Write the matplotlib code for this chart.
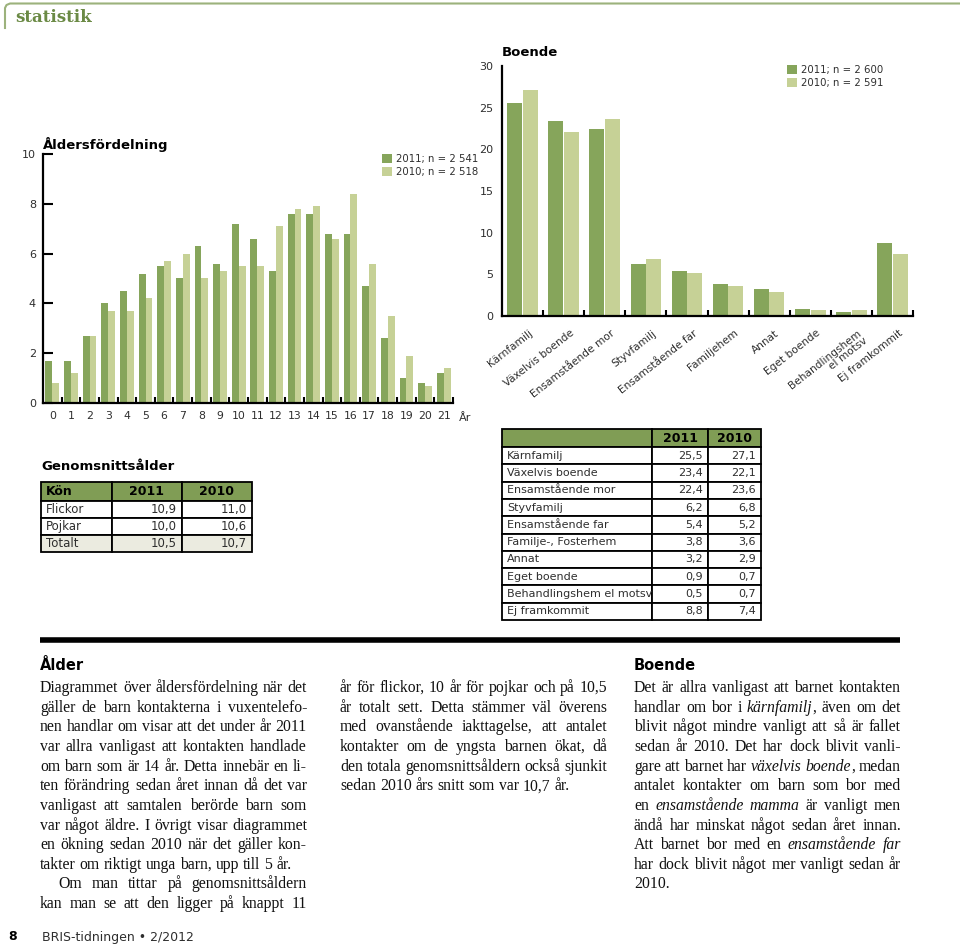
import numpy as np
import matplotlib
matplotlib.use("Agg")
import matplotlib.pyplot as plt
from matplotlib.patches import Rectangle
from matplotlib.transforms import blended_transform_factory, offset_copy

W, H = 960, 944
DARK = "#86a55b"
LIGHT = "#c6d196"
HEAD = "#809d55"
TXT = "#2e2e2e"
SANS = "DejaVu Sans"
SERIF = "Liberation Serif"

# --- data -------------------------------------------------------------
ages = [str(a) for a in range(22)]
age_2011 = [1.7, 1.7, 2.7, 4.0, 4.5, 5.2, 5.5, 5.0, 6.3, 5.6, 7.2,
            6.6, 5.3, 7.6, 7.6, 6.8, 6.8, 4.7, 2.6, 1.0, 0.8, 1.2]
age_2010 = [0.8, 1.2, 2.7, 3.7, 3.7, 4.2, 5.7, 6.0, 5.0, 5.3, 5.5,
            5.5, 7.1, 7.8, 7.9, 6.6, 8.4, 5.6, 3.5, 1.9, 0.7, 1.4]
age_legend = ["2011; n = 2 541", "2010; n = 2 518"]

boende_labels = ["Kärnfamilj", "Växelvis boende", "Ensamstående mor", "Styvfamilj",
                 "Ensamstående far", "Familjehem", "Annat", "Eget boende",
                 "Behandlingshem\nel motsv", "Ej framkommit"]
boende_table_labels = ["Kärnfamilj", "Växelvis boende", "Ensamstående mor", "Styvfamilj",
                       "Ensamstående far", "Familje-, Fosterhem", "Annat", "Eget boende",
                       "Behandlingshem el motsv", "Ej framkommit"]
boende_2011 = [25.5, 23.4, 22.4, 6.2, 5.4, 3.8, 3.2, 0.9, 0.5, 8.8]
boende_2010 = [27.1, 22.1, 23.6, 6.8, 5.2, 3.6, 2.9, 0.7, 0.7, 7.4]
boende_legend = ["2011; n = 2 600", "2010; n = 2 591"]

kon = ["Flickor", "Pojkar", "Totalt"]
snitt_2011 = [10.9, 10.0, 10.5]
snitt_2010 = [11.0, 10.6, 10.7]

col1 = ["Diagrammet över åldersfördelning när det",
        "gäller de barn kontakterna i vuxentelefo-",
        "nen handlar om visar att det under år 2011",
        "var allra vanligast att kontakten handlade",
        "om barn som är 14 år. Detta innebär en li-",
        "ten förändring sedan året innan då det var",
        "vanligast att samtalen berörde barn som",
        "var något äldre. I övrigt visar diagrammet",
        "en ökning sedan 2010 när det gäller kon-",
        "takter om riktigt unga barn, upp till 5 år.",
        "Om man tittar på genomsnittsåldern",
        "kan man se att den ligger på knappt 11"]
col1_last = [9]
col1_indent = [10]
col2 = ["år för flickor, 10 år för pojkar och på 10,5",
        "år totalt sett. Detta stämmer väl överens",
        "med ovanstående iakttagelse, att antalet",
        "kontakter om de yngsta barnen ökat, då",
        "den totala genomsnittsåldern också sjunkit",
        "sedan 2010 års snitt som var 10,7 år."]
col2_last = [5]
col3 = ["Det är allra vanligast att barnet kontakten",
        "handlar om bor i *kärnfamilj*, även om det",
        "blivit något mindre vanligt att så är fallet",
        "sedan år 2010. Det har dock blivit vanli-",
        "gare att barnet har *växelvis boende*, medan",
        "antalet kontakter om barn som bor med",
        "en *ensamstående mamma* är vanligt men",
        "ändå har minskat något sedan året innan.",
        "Att barnet bor med en *ensamstående far*",
        "har dock blivit något mer vanligt sedan år",
        "2010."]
col3_last = [10]


def fmt(v):
    return f"{v:.1f}".replace(".", ",")


fig = plt.figure(figsize=(W / 100, H / 100), dpi=100)

# page layer in pixel coordinates (y down)
page = fig.add_axes([0, 0, 1, 1])
page.set_xlim(0, W)
page.set_ylim(H, 0)
page.axis("off")


def box(l, t, r, b):
    return fig.add_axes([l / W, 1 - b / H, (r - l) / W, (b - t) / H])


# header
page.plot([5, 5, 6.5, 10, W], [28, 8, 5, 3.5, 3.5], color="#9cb27c", lw=1.5)
page.text(15, 18, "statistik", family="DejaVu Serif", weight="bold", size=12,
          color="#6b8a45", va="center")

# --- Åldersfördelning -----------------------------------------------
ax = box(43, 154, 453, 403)
x = np.arange(len(ages))
ax.bar(x - 0.185, age_2011, 0.37, color=DARK, label=age_legend[0])
ax.bar(x + 0.185, age_2010, 0.37, color=LIGHT, label=age_legend[1])
ax.set_xlim(-0.5, 21.5)
ax.set_ylim(0, 10)
ax.spines[["top", "right"]].set_visible(False)
ax.spines[["left", "bottom"]].set_linewidth(1.6)
ax.set_yticks([0, 2, 4, 6, 8, 10])
ax.tick_params(axis="y", direction="in", length=7, width=1.5, pad=5,
               labelsize=8, labelcolor=TXT)
ax.set_xticks(x)
ax.set_xticklabels(ages)
ax.tick_params(axis="x", which="major", length=0, pad=6, labelsize=7.8, labelcolor=TXT)
ax.set_xticks(np.arange(0.5, 22, 1), minor=True)
ax.tick_params(axis="x", which="minor", direction="in", length=4, width=1.5)
ax.patch.set_alpha(0)
ax.annotate("År", xy=(1, 0), xycoords="axes fraction", xytext=(4, -10.5),
            textcoords="offset points", ha="left", va="center", size=8, color=TXT)
ax.legend(loc="upper left", bbox_to_anchor=(382 / W, 1 - 154 / H),
          bbox_transform=fig.transFigure, frameon=False, fontsize=7.3,
          handlelength=0.95, handleheight=0.95, handletextpad=0.4,
          labelspacing=0.3, borderpad=0, borderaxespad=0, labelcolor=TXT)
page.text(43, 145, "Åldersfördelning", family=SANS, weight="bold", size=9.5, va="center")

# --- Boende -----------------------------------------------------------
bx = box(502, 66, 913, 316)
xb = np.arange(len(boende_labels))
bx.bar(xb - 0.19, boende_2011, 0.365, color=DARK, label=boende_legend[0])
bx.bar(xb + 0.19, boende_2010, 0.365, color=LIGHT, label=boende_legend[1])
bx.set_xlim(-0.5, 9.5)
bx.set_ylim(0, 30)
bx.spines[["top", "right"]].set_visible(False)
bx.spines[["left", "bottom"]].set_linewidth(1.6)
bx.set_yticks(np.arange(0, 31, 5))
bx.tick_params(axis="y", which="major", length=0, pad=6, labelsize=8, labelcolor=TXT)
bx.set_yticks([30], minor=True)
bx.tick_params(axis="y", which="minor", direction="in", length=7, width=1.5)
bx.set_xticks([])
bx.set_xticks(np.arange(0.5, 10, 1), minor=True)
bx.tick_params(axis="x", which="minor", direction="in", length=4, width=1.5)
bx.patch.set_alpha(0)
lab_tr = offset_copy(blended_transform_factory(bx.transData, bx.transAxes),
                     fig=fig, x=6, y=-12, units="dots")
for i, lab in enumerate(boende_labels):
    bx.text(xb[i], 0, lab, transform=lab_tr, rotation=38, rotation_mode="anchor",
            ha="right", va="top", multialignment="right", size=7.6, color=TXT,
            linespacing=1.0)
bx.legend(loc="upper left", bbox_to_anchor=(787 / W, 1 - 65 / H),
          bbox_transform=fig.transFigure, frameon=False, fontsize=7.3,
          handlelength=0.95, handleheight=0.95, handletextpad=0.4,
          labelspacing=0.3, borderpad=0, borderaxespad=0, labelcolor=TXT)
page.text(502, 53, "Boende", family=SANS, weight="bold", size=9.5, va="center")


# --- tables -----------------------------------------------------------
def cell(l, t, r, b, fill):
    page.add_patch(Rectangle((l, t), r - l, b - t, facecolor=fill,
                             edgecolor="black", lw=1.3))


page.text(41, 466, "Genomsnittsålder", family=SANS, weight="bold", size=9.5, va="center")
cx = [41, 112, 182, 252]
ry = [482, 501, 518, 535, 552]
for j in range(3):
    cell(cx[j], ry[0], cx[j + 1], ry[1], HEAD)
page.text(cx[0] + 5, (ry[0] + ry[1]) / 2, "Kön", weight="bold", size=9, va="center")
for j, h in enumerate(["2011", "2010"]):
    page.text((cx[j + 1] + cx[j + 2]) / 2, (ry[0] + ry[1]) / 2, h, weight="bold",
              size=9, ha="center", va="center")
for i, k in enumerate(kon):
    fill = "#ebebe0" if i == len(kon) - 1 else "white"
    t, b = ry[i + 1], ry[i + 2]
    for j in range(3):
        cell(cx[j], t, cx[j + 1], b, fill)
    yc = (t + b) / 2
    page.text(cx[0] + 5, yc, k, size=8.5, va="center", color=TXT)
    page.text(cx[2] - 5, yc, fmt(snitt_2011[i]), size=8.5, va="center", ha="right", color=TXT)
    page.text(cx[3] - 5, yc, fmt(snitt_2010[i]), size=8.5, va="center", ha="right", color=TXT)

tx = [502, 652, 708, 761]
ty0, th0, rh = 429, 447, 17.3
for j in range(3):
    cell(tx[j], ty0, tx[j + 1], th0, HEAD)
for j, h in enumerate(["2011", "2010"]):
    page.text((tx[j + 1] + tx[j + 2]) / 2, (ty0 + th0) / 2, h, weight="bold",
              size=9, ha="center", va="center")
for i, lab in enumerate(boende_table_labels):
    t = th0 + i * rh
    b = t + rh
    for j in range(3):
        cell(tx[j], t, tx[j + 1], b, "white")
    yc = (t + b) / 2
    page.text(tx[0] + 5, yc, lab, size=8, va="center", color=TXT)
    page.text(tx[2] - 5, yc, fmt(boende_2011[i]), size=8, va="center", ha="right", color=TXT)
    page.text(tx[3] - 5, yc, fmt(boende_2010[i]), size=8, va="center", ha="right", color=TXT)

# --- body text ---------------------------------------------------------
page.plot([40, 900], [640, 640], color="black", lw=4, solid_capstyle="butt")
page.text(40, 666, "Ålder", family=SANS, weight="bold", size=10.5, va="center")
page.text(634, 666, "Boende", family=SANS, weight="bold", size=10.5, va="center")

renderer = fig.canvas.get_renderer()
BODY = 11.3
SPACE = 0.25 * BODY * 100 / 72
COLW = 267


def body_line(x0, y, line, justify, indent=0):
    italic = False
    words = []
    for w in line.split():
        segs = []
        for k, p in enumerate(w.split("*")):
            if k > 0:
                italic = not italic
            if p:
                t = page.text(0, y, p, family=SERIF, size=BODY, va="baseline",
                              style="italic" if italic else "normal", color="#111111")
                segs.append((t, t.get_window_extent(renderer).width))
        words.append(segs)
    total = sum(wd for segs in words for _, wd in segs)
    gap = SPACE
    if justify and len(words) > 1:
        gap = max((COLW - indent - total) / (len(words) - 1), 0.6 * SPACE)
    xp = x0 + indent
    for segs in words:
        for t, wd in segs:
            t.set_x(xp)
            xp += wd
        xp += gap


def column(x0, lines, last, indent_rows=()):
    for i, line in enumerate(lines):
        body_line(x0, 692 + i * 19.65, line, i not in last,
                  indent=18 if i in indent_rows else 0)


column(40, col1, col1_last, col1_indent)
column(340, col2, col2_last)
column(634, col3, col3_last)

page.text(8, 937, "8", family=SANS, weight="bold", size=9, va="center")
page.text(42, 937, "BRIS-tidningen • 2/2012", family=SANS, size=9, va="center", color=TXT)

fig.savefig("out.png", dpi=100)
